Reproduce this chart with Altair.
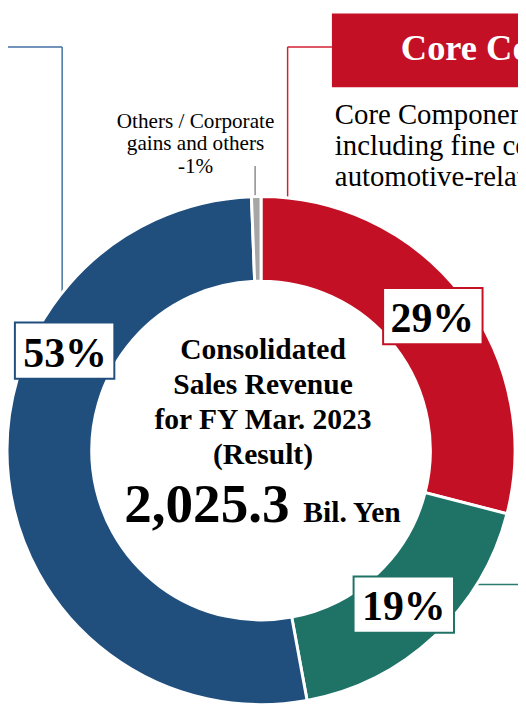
import altair as alt
import pandas as pd

# ---- data ----
segments = ["Core Components", "Electronic Components", "Solutions", "Others / Corporate gains and others"]
shares = [29.0, 18.1, 52.3, 0.6]          # slice sizes as drawn
labels = ["29%", "19%", "53%", "-1%"]     # printed labels
colors = ["#C41024", "#1F7366", "#204F7E", "#A6A6A6"]

center_lines = ["Consolidated", "Sales Revenue", "for FY Mar. 2023", "(Result)"]
total_value = "2,025.3"
total_unit = "Bil. Yen"
others_lines = ["Others / Corporate", "gains and others", "-1%"]
title_text = "Core Components Business"
desc_lines = ["Core Components Business,", "including fine ceramic components,", "automotive-related components"]

FONT = "Liberation Serif"
W, H = 518, 701
CX, CY = 257, 444
R_OUT, R_IN = 258, 172

df = pd.DataFrame({"segment": segments, "share": shares, "order": list(range(len(segments)))})
one = pd.DataFrame({"k": [0]})

def rule(x, y, x2, y2, color, w=1.5):
    return alt.Chart(one).mark_rule(color=color, strokeWidth=w).encode(
        x=alt.value(x), y=alt.value(y), x2=alt.value(x2), y2=alt.value(y2))

def rect(x, y, x2, y2, fill, stroke=None, w=0):
    kw = dict(fill=fill)
    if stroke:
        kw.update(stroke=stroke, strokeWidth=w)
    return alt.Chart(one).mark_rect(**kw).encode(
        x=alt.value(x), y=alt.value(y), x2=alt.value(x2), y2=alt.value(y2))

def text(t, x, y, size, bold=False, color="black", align="center", line_height=None, clip=False):
    kw = dict(font=FONT, fontSize=size, fontWeight="bold" if bold else "normal",
              color=color, align=align, baseline="alphabetic", clip=clip)
    if line_height:
        kw["lineHeight"] = line_height
    return alt.Chart(one).mark_text(**kw).encode(
        x=alt.value(x), y=alt.value(y), text=alt.value(t))

# leader lines (drawn beneath the donut)
lines = [
    rule(0, 34, 55, 34, "#4471A3"), rule(55, 34, 55, 290, "#4471A3"),
    rule(284, 34, 329, 34, "#D22030"), rule(284, 34, 284, 190, "#D22030"),
    rule(251, 155, 251, 190, "#8C8C8C"),
    rule(460, 580, W, 580, "#2B7C6E"),
]

arcs = alt.Chart(df).mark_arc(outerRadius=R_OUT, innerRadius=R_IN, stroke="white", strokeWidth=3).encode(
    theta=alt.Theta("share:Q", stack=True),
    order=alt.Order("order:Q"),
    color=alt.Color("segment:N", scale=alt.Scale(domain=segments, range=colors), legend=None),
    x=alt.value(CX), y=alt.value(CY),
)

# percentage label boxes
boxes = [
    rect(381, 279, 482, 336, "white", colors[0], 2), text(labels[0], 431, 324, 42.5, bold=True),
    rect(351, 572, 453, 629, "white", colors[1], 2), text(labels[1], 402, 616, 42.5, bold=True),
    rect(7, 314, 108, 371, "white", colors[2], 2), text(labels[2], 58, 359, 42.5, bold=True),
]

others = text(others_lines, 190.5, 116, 21.5, line_height=23)

center = [
    text(center_lines, 259, 351, 30, bold=True, line_height=35.5),
    text(total_value, 286, 517, 56, bold=True, align="right"),
    text(total_unit, 300, 517, 30, bold=True, align="left"),
]

title = [
    rect(329, 0, W, 75, colors[0]),
    text(title_text, 399, 47, 37, bold=True, color="white", align="left", clip=True),
    text(desc_lines, 332, 112, 29.2, align="left", line_height=31.5, clip=True),
]

chart = alt.layer(*lines, arcs, *boxes, others, *center, *title).properties(
    width=W, height=H, padding=0, autosize=alt.AutoSizeParams(type="none")
).configure_view(stroke=None)

chart.save("out.html", embed_options={"renderer": "svg", "actions": False})
